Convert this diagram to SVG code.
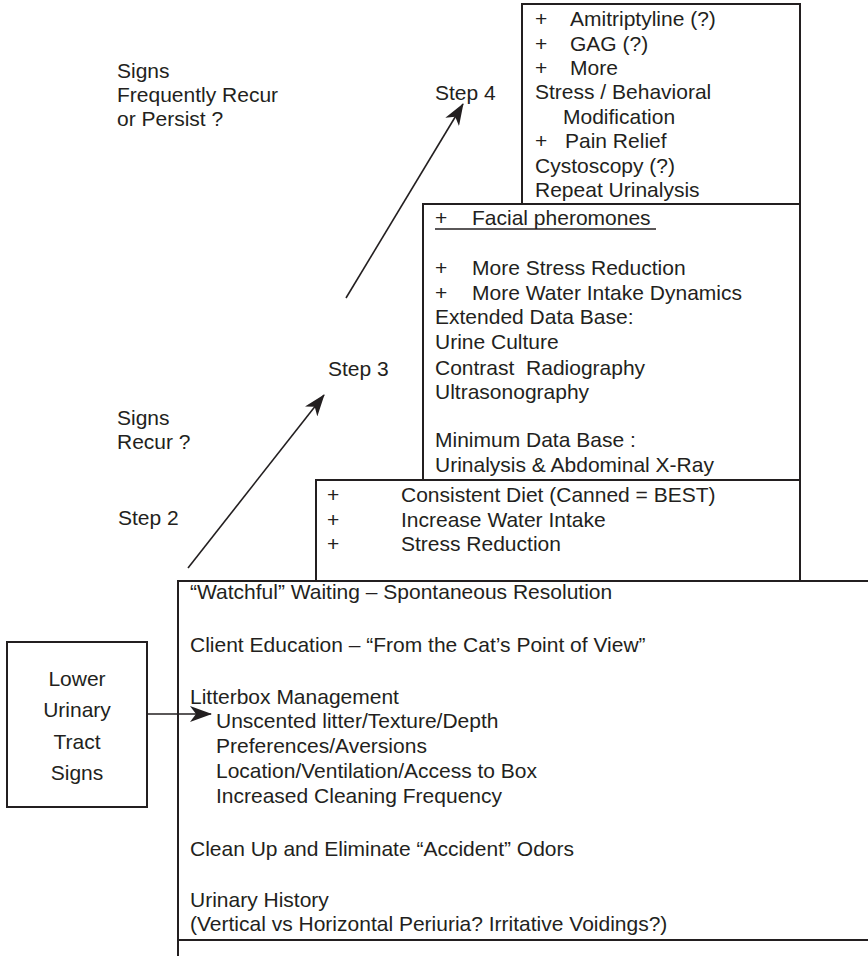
<svg xmlns="http://www.w3.org/2000/svg" width="868" height="956" viewBox="0 0 868 956">
<style>
  text { font-family: "Liberation Sans", Arial, sans-serif; font-size: 21px; fill: #231f20; }
  .box { fill: none; stroke: #231f20; stroke-width: 2; }
  .conn { fill: none; stroke: #231f20; stroke-width: 1.6; }
</style>
<defs>
  <marker id="head" viewBox="0 0 22 16" refX="21" refY="8" markerWidth="22" markerHeight="16" markerUnits="userSpaceOnUse" orient="auto">
    <path d="M0,0 L22,8 L0,16 L6,8 Z" fill="#231f20"/>
  </marker>
</defs>
<rect width="868" height="956" fill="#ffffff"/>

<g id="labels">
  <text x="117" y="78">Signs</text>
  <text x="117" y="102">Frequently Recur</text>
  <text x="117" y="126">or Persist ?</text>
  <text x="435" y="100">Step 4</text>
  <text x="328" y="376">Step 3</text>
  <text x="117" y="425">Signs</text>
  <text x="117" y="449">Recur ?</text>
  <text x="118" y="525">Step 2</text>
</g>

<g id="step4">
  <rect class="box" x="522" y="4" width="278" height="200"/>
  <text x="535" y="26">+</text><text x="570" y="26">Amitriptyline (?)</text>
  <text x="535" y="51">+</text><text x="570" y="51">GAG (?)</text>
  <text x="535" y="75">+</text><text x="570" y="75">More</text>
  <text x="535" y="99">Stress / Behavioral</text>
  <text x="563" y="124">Modification</text>
  <text x="535" y="148">+</text><text x="565" y="148">Pain Relief</text>
  <text x="535" y="173">Cystoscopy (?)</text>
  <text x="535" y="197">Repeat Urinalysis</text>
</g>

<g id="step3">
  <rect class="box" x="423" y="204" width="377" height="276"/>
  <text x="435" y="225">+</text><text x="472" y="225">Facial pheromones</text>
  <line x1="435" y1="229" x2="656" y2="229" stroke="#231f20" stroke-width="1.5"/>
  <text x="435" y="275">+</text><text x="472" y="275">More Stress Reduction</text>
  <text x="435" y="300">+</text><text x="472" y="300">More Water Intake Dynamics</text>
  <text x="435" y="324">Extended Data Base:</text>
  <text x="435" y="349">Urine Culture</text>
  <text x="435" y="375" xml:space="preserve">Contrast  Radiography</text>
  <text x="435" y="399">Ultrasonography</text>
  <text x="435" y="447">Minimum Data Base :</text>
  <text x="435" y="472">Urinalysis &amp; Abdominal X-Ray</text>
</g>

<g id="step2">
  <rect class="box" x="316" y="480" width="484" height="101"/>
  <text x="327" y="502">+</text><text x="401" y="502">Consistent Diet (Canned = BEST)</text>
  <text x="327" y="527">+</text><text x="401" y="527">Increase Water Intake</text>
  <text x="327" y="551">+</text><text x="401" y="551">Stress Reduction</text>
</g>

<g id="step1">
  <path class="box" d="M868,581 L178,581 L178,956 M178,940 L868,940"/>
  <text x="190" y="599">“Watchful” Waiting – Spontaneous Resolution</text>
  <text x="190" y="652">Client Education – “From the Cat’s Point of View”</text>
  <text x="190" y="704">Litterbox Management</text>
  <text x="216" y="728">Unscented litter/Texture/Depth</text>
  <text x="216" y="753">Preferences/Aversions</text>
  <text x="216" y="778">Location/Ventilation/Access to Box</text>
  <text x="216" y="803">Increased Cleaning Frequency</text>
  <text x="190" y="856">Clean Up and Eliminate “Accident” Odors</text>
  <text x="190" y="907">Urinary History</text>
  <text x="190" y="931">(Vertical vs Horizontal Periuria? Irritative Voidings?)</text>
</g>

<g id="luts">
  <rect class="box" x="7" y="642" width="140" height="165"/>
  <text x="77" y="686" text-anchor="middle">Lower</text>
  <text x="77" y="717" text-anchor="middle">Urinary</text>
  <text x="77" y="749" text-anchor="middle">Tract</text>
  <text x="77" y="780" text-anchor="middle">Signs</text>
</g>

<g id="connectors">
  <line class="conn" x1="147" y1="714" x2="211" y2="714" marker-end="url(#head)"/>
  <line class="conn" x1="188" y1="568" x2="324" y2="395" marker-end="url(#head)"/>
  <line class="conn" x1="346" y1="298" x2="463" y2="104" marker-end="url(#head)"/>
</g>
</svg>
